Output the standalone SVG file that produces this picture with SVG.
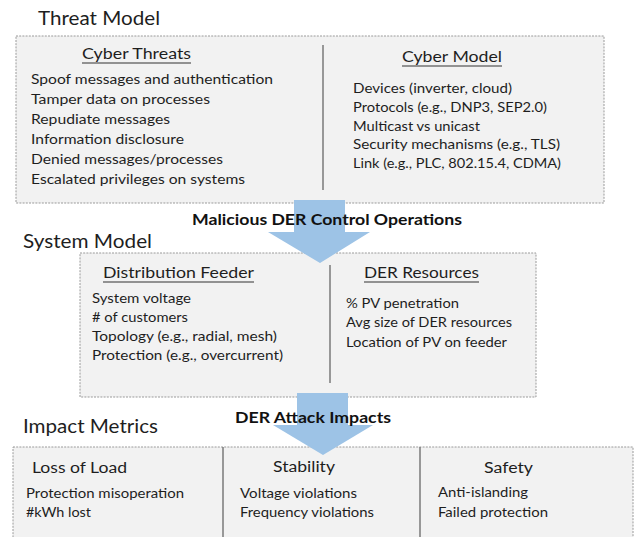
<svg xmlns="http://www.w3.org/2000/svg" width="636" height="537" viewBox="0 0 636 537">
  <style>
    text { font-family: "Lato", "Open Sans", "Liberation Sans", sans-serif; fill: #1e1e1e; }
    .title { font-size: 18.5px; }
    .head { font-size: 15.5px; }
    .body { font-size: 13.5px; }
    .label { font-size: 15.5px; font-weight: bold; fill: #111; }
    .panel { fill: #f2f2f2; stroke: #9a9a9a; stroke-width: 1; stroke-dasharray: 2 1.2; }
    .divider { stroke: #7a7a7a; stroke-width: 1.5; }
    .uline { stroke: #333; stroke-width: 1.2; }
    .arrow { fill: #9dc3e6; }
  </style>

  <rect width="636" height="537" fill="#ffffff"/>

  <!-- Threat model: cyber threats and cyber model -->
  <g id="threat-model">
    <text class="title" x="38" y="25" textLength="122" lengthAdjust="spacingAndGlyphs">Threat Model</text>
    <rect class="panel" x="16" y="36" width="588" height="167"/>
    <line class="divider" x1="323" y1="45" x2="323" y2="190"/>
    <text class="head" x="82" y="59" textLength="109" lengthAdjust="spacingAndGlyphs">Cyber Threats</text>
    <line class="uline" x1="82" y1="63" x2="191" y2="63"/>
    <text class="body" x="31" y="84" textLength="242" lengthAdjust="spacingAndGlyphs">Spoof messages and authentication</text>
    <text class="body" x="31" y="104" textLength="179" lengthAdjust="spacingAndGlyphs">Tamper data on processes</text>
    <text class="body" x="31" y="124" textLength="139" lengthAdjust="spacingAndGlyphs">Repudiate messages</text>
    <text class="body" x="31" y="144" textLength="153" lengthAdjust="spacingAndGlyphs">Information disclosure</text>
    <text class="body" x="31" y="164" textLength="192" lengthAdjust="spacingAndGlyphs">Denied messages/processes</text>
    <text class="body" x="31" y="184" textLength="214" lengthAdjust="spacingAndGlyphs">Escalated privileges on systems</text>
    <text class="head" x="402" y="62" textLength="100" lengthAdjust="spacingAndGlyphs">Cyber Model</text>
    <line class="uline" x1="402" y1="66" x2="502" y2="66"/>
    <text class="body" x="353" y="93" textLength="159" lengthAdjust="spacingAndGlyphs">Devices (inverter, cloud)</text>
    <text class="body" x="353" y="112" textLength="194" lengthAdjust="spacingAndGlyphs">Protocols (e.g., DNP3, SEP2.0)</text>
    <text class="body" x="353" y="130.5" textLength="127" lengthAdjust="spacingAndGlyphs">Multicast vs unicast</text>
    <text class="body" x="353" y="149" textLength="207" lengthAdjust="spacingAndGlyphs">Security mechanisms (e.g., TLS)</text>
    <text class="body" x="353" y="168" textLength="208" lengthAdjust="spacingAndGlyphs">Link (e.g., PLC, 802.15.4, CDMA)</text>
  </g>

  <!-- System model: distribution feeder and DER resources -->
  <g id="system-model">
    <text class="title" x="23" y="248" textLength="129" lengthAdjust="spacingAndGlyphs">System Model</text>
    <rect class="panel" x="80" y="253" width="456" height="144"/>
    <line class="divider" x1="330" y1="265" x2="330" y2="383"/>
    <text class="head" x="103" y="278" textLength="151" lengthAdjust="spacingAndGlyphs">Distribution Feeder</text>
    <line class="uline" x1="103" y1="282" x2="254" y2="282"/>
    <text class="body" x="92" y="303" textLength="99" lengthAdjust="spacingAndGlyphs">System voltage</text>
    <text class="body" x="92" y="322" textLength="96" lengthAdjust="spacingAndGlyphs"># of customers</text>
    <text class="body" x="92" y="341" textLength="185" lengthAdjust="spacingAndGlyphs">Topology (e.g., radial, mesh)</text>
    <text class="body" x="92" y="360" textLength="191" lengthAdjust="spacingAndGlyphs">Protection (e.g., overcurrent)</text>
    <text class="head" x="364" y="278" textLength="115" lengthAdjust="spacingAndGlyphs">DER Resources</text>
    <line class="uline" x1="364" y1="282" x2="479" y2="282"/>
    <text class="body" x="346" y="308" textLength="113" lengthAdjust="spacingAndGlyphs">% PV penetration</text>
    <text class="body" x="346" y="327" textLength="166" lengthAdjust="spacingAndGlyphs">Avg size of DER resources</text>
    <text class="body" x="346" y="347" textLength="161" lengthAdjust="spacingAndGlyphs">Location of PV on feeder</text>
  </g>

  <!-- Impact metrics: loss of load, stability, safety -->
  <g id="impact-metrics">
    <text class="title" x="23" y="433" textLength="135" lengthAdjust="spacingAndGlyphs">Impact Metrics</text>
    <rect class="panel" x="13" y="447" width="620" height="110"/>
    <line class="divider" x1="223" y1="447" x2="223" y2="537"/>
    <line class="divider" x1="420" y1="447" x2="420" y2="537"/>
    <text class="head" x="32" y="473" textLength="95" lengthAdjust="spacingAndGlyphs">Loss of Load</text>
    <text class="body" x="26" y="498" textLength="158" lengthAdjust="spacingAndGlyphs">Protection misoperation</text>
    <text class="body" x="26" y="517" textLength="65" lengthAdjust="spacingAndGlyphs">#kWh lost</text>
    <text class="head" x="273" y="472" textLength="62" lengthAdjust="spacingAndGlyphs">Stability</text>
    <text class="body" x="240" y="498" textLength="117" lengthAdjust="spacingAndGlyphs">Voltage violations</text>
    <text class="body" x="240" y="517" textLength="134" lengthAdjust="spacingAndGlyphs">Frequency violations</text>
    <text class="head" x="484" y="473" textLength="49" lengthAdjust="spacingAndGlyphs">Safety</text>
    <text class="body" x="438" y="497" textLength="90" lengthAdjust="spacingAndGlyphs">Anti-islanding</text>
    <text class="body" x="438" y="517" textLength="110" lengthAdjust="spacingAndGlyphs">Failed protection</text>
  </g>

  <!-- Block arrows between the models, with their labels on top -->
  <g id="connectors">
    <polygon class="arrow" points="294,200 345,200 345,232 370,232 320,263 268,232 294,232"/>
    <polygon class="arrow" points="297,393 348,393 348,425 373,425 323,455 273,425 297,425"/>
    <text class="label" x="192" y="225" textLength="270" lengthAdjust="spacingAndGlyphs">Malicious DER Control Operations</text>
    <text class="label" x="235" y="423" textLength="156" lengthAdjust="spacingAndGlyphs">DER Attack Impacts</text>
  </g>
</svg>
